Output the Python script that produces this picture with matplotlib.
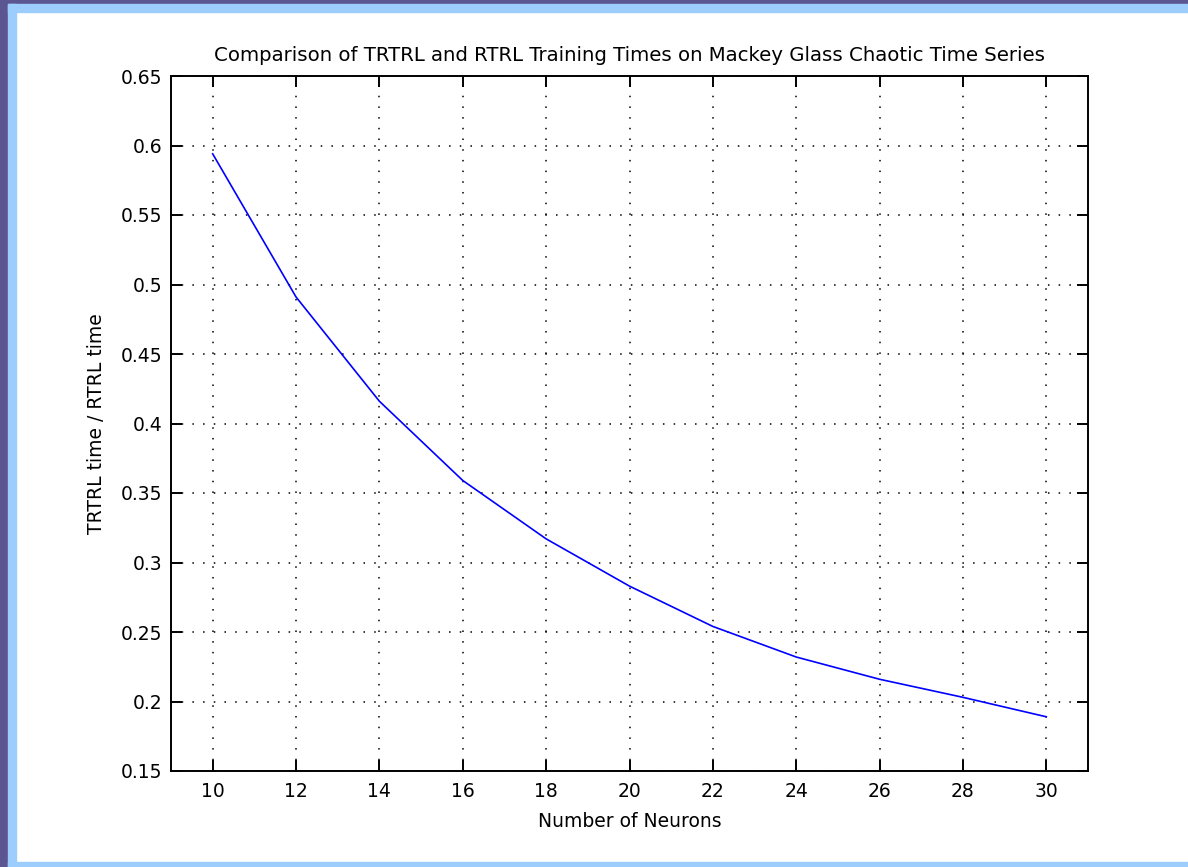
import matplotlib
matplotlib.use("Agg")
import matplotlib.pyplot as plt
from matplotlib.patches import Rectangle

neurons = [10, 12, 14, 16, 18, 20, 22, 24, 26, 28, 30]
time_ratio = [0.594, 0.491, 0.416, 0.359, 0.317, 0.283, 0.254, 0.232, 0.216, 0.203, 0.189]

plt.rcParams['font.family'] = ['DejaVu Sans']

W, H = 1188, 867
fig = plt.figure(figsize=(W / 100, H / 100), dpi=100)

# window frame: purple outer strip + light blue inner strip
purple = '#5b5591'
light = '#9dcdfc'
fig.patches.append(Rectangle((0, 0), 8 / W, 1, transform=fig.transFigure, color=purple, zorder=0))
fig.patches.append(Rectangle((0, 1 - 4 / H), 1, 4 / H, transform=fig.transFigure, color=purple, zorder=0))
fig.patches.append(Rectangle((8 / W, 0), 8 / W, 1 - 4 / H, transform=fig.transFigure, color=light, zorder=0))
fig.patches.append(Rectangle((8 / W, 1 - 12 / H), 1, 8 / H, transform=fig.transFigure, color=light, zorder=0))
fig.patches.append(Rectangle((8 / W, 0), 1, 5 / H, transform=fig.transFigure, color=light, zorder=0))

ax = fig.add_axes([171 / W, 1 - 771 / H, (1088 - 171) / W, (771 - 76) / H])
ax.plot(neurons, time_ratio, color='#0000ff', lw=1.2)

ax.set_xlim(9, 31)
ax.set_ylim(0.15, 0.65)
ax.set_xticks(range(10, 31, 2))
ax.set_yticks([0.15, 0.2, 0.25, 0.3, 0.35, 0.4, 0.45, 0.5, 0.55, 0.6, 0.65])
ax.set_yticklabels(['0.15', '0.2', '0.25', '0.3', '0.35', '0.4', '0.45', '0.5', '0.55', '0.6', '0.65'])
ax.grid(True, color='black', linestyle=(0, (1, 6)), linewidth=1.1)
ax.tick_params(direction='in', top=True, right=True, length=8, width=1.4, labelsize=13.5)
ax.tick_params(axis='y', pad=6)
ax.tick_params(axis='x', pad=8)
for s in ax.spines.values():
    s.set_linewidth(1.4)

ax.set_title('Comparison of TRTRL and RTRL Training Times on Mackey Glass Chaotic Time Series',
             fontsize=14.2, pad=11)
ax.set_xlabel('Number of Neurons', fontsize=13.5, labelpad=8)
ax.set_ylabel('TRTRL time / RTRL time', fontsize=13.5, labelpad=11)

fig.savefig('out.png', dpi=100)
